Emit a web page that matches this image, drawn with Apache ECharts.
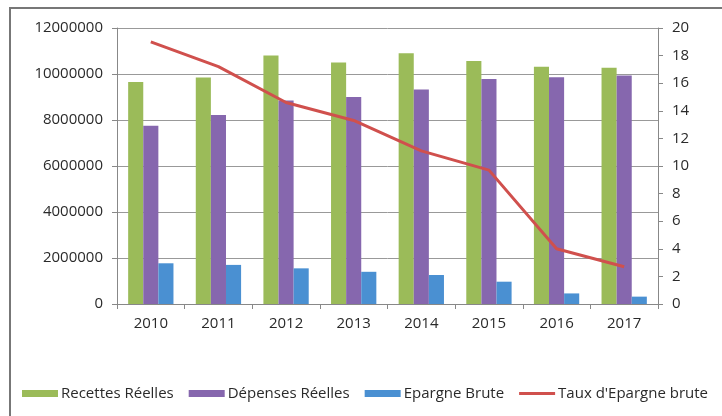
<!DOCTYPE html>
<html>
<head>
<meta charset="utf-8">
<script src="https://cdn.jsdelivr.net/npm/echarts@6/dist/echarts.min.js"></script>
<style>html,body{margin:0;padding:0;background:#fff;overflow:hidden;}#c{width:722px;height:416px;}</style>
</head>
<body>
<div id="c"></div>
<script>
var years = ['2010','2011','2012','2013','2014','2015','2016','2017'];
var recettes = [9650000, 9850000, 10800000, 10500000, 10900000, 10570000, 10320000, 10270000];
var depenses = [7750000, 8220000, 8850000, 9000000, 9330000, 9780000, 9860000, 9940000];
var epargne = [1770000, 1700000, 1550000, 1400000, 1260000, 970000, 460000, 320000];
var taux = [19.0, 17.2, 14.6, 13.3, 11.1, 9.7, 4.0, 2.7];

var FONT = 'Open Sans';
var chart = echarts.init(document.getElementById('c'), null, {renderer:'canvas'});
chart.setOption({
  backgroundColor: '#fff',
  animation: false,
  textStyle: {fontFamily: FONT},
  graphic: [{
    type: 'polyline', silent: true,
    shape: {points: [[10, 416], [10, 8], [722, 8]]},
    style: {fill: 'none', stroke: '#777', lineWidth: 2}
  }],
  grid: {left: 117, right: 64, top: 28, bottom: 112},
  legend: {
    left: 17, top: 381, itemWidth: 36, itemHeight: 7, itemGap: 15,
    textStyle: {fontFamily: FONT, fontSize: 15, color: '#2a2a2a', padding: [0,0,0,-2]},
    data: [
      {name: 'Recettes Réelles', icon: 'rect'},
      {name: 'Dépenses Réelles', icon: 'rect'},
      {name: 'Epargne Brute', icon: 'rect'},
      {name: "Taux d'Epargne brute", icon: 'path://M0,0H36V3H0Z'}
    ]
  },
  xAxis: {
    type: 'category', data: years,
    axisLine: {lineStyle: {color: '#888', width: 1}},
    axisTick: {show: true, length: 5, lineStyle: {color: '#888'}},
    axisLabel: {fontFamily: FONT, fontSize: 15, color: '#2a2a2a', margin: 12}
  },
  yAxis: [{
    type: 'value', min: 0, max: 12000000, interval: 2000000,
    axisLine: {show: true, lineStyle: {color: '#888'}},
    axisTick: {show: true, length: 5, lineStyle: {color: '#888'}},
    splitLine: {lineStyle: {color: '#999', width: 1}},
    axisLabel: {fontFamily: FONT, fontSize: 15, color: '#2a2a2a', margin: 14,
      formatter: function (v) { return String(v); }}
  }, {
    type: 'value', min: 0, max: 20, interval: 2, position: 'right',
    axisLine: {show: true, lineStyle: {color: '#888'}},
    axisTick: {show: true, length: 5, lineStyle: {color: '#888'}},
    splitLine: {show: false},
    axisLabel: {fontFamily: FONT, fontSize: 15, color: '#2a2a2a', margin: 14}
  }],
  series: [{
    name: 'Recettes Réelles', type: 'bar', data: recettes,
    barGap: '0%', barCategoryGap: '33%',
    itemStyle: {color: '#9BBB59'}
  }, {
    name: 'Dépenses Réelles', type: 'bar', data: depenses,
    barGap: '0%', barCategoryGap: '33%',
    itemStyle: {color: '#8667AE'}
  }, {
    name: 'Epargne Brute', type: 'bar', data: epargne,
    barGap: '0%', barCategoryGap: '33%',
    itemStyle: {color: '#4A90D2'}
  }, {
    name: "Taux d'Epargne brute", type: 'line', yAxisIndex: 1, data: taux,
    symbol: 'none', showSymbol: false,
    lineStyle: {color: '#D0504D', width: 3},
    itemStyle: {color: '#D0504D'}
  }]
});
</script>
</body>
</html>
